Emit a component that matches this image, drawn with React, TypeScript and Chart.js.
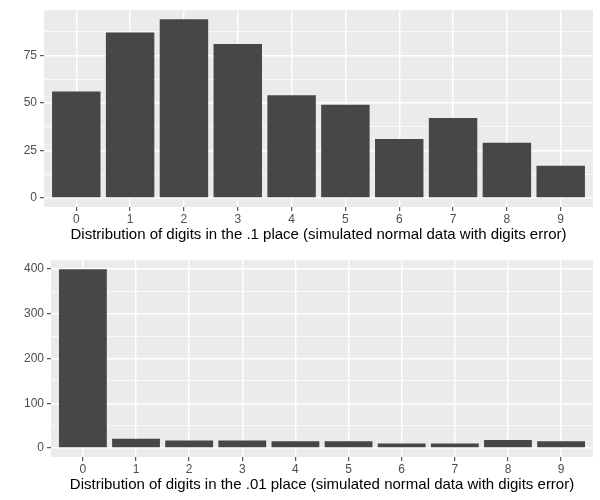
import React, { useEffect, useRef } from "react";
import { Chart, registerables } from "chart.js";

Chart.register(...registerables);
Chart.defaults.font.family = "'Liberation Sans', Arial, Helvetica, sans-serif";

const digits = ["0", "1", "2", "3", "4", "5", "6", "7", "8", "9"];
const tenthsCounts = [56, 87, 94, 81, 54, 49, 31, 42, 29, 17];
const hundredthsCounts = [400, 21, 17, 17, 15, 15, 10, 10, 18, 15];
const tenthsTitle =
  "Distribution of digits in the .1 place (simulated normal data with digits error)";
const hundredthsTitle =
  "Distribution of digits in the .01 place (simulated normal data with digits error)";
const tenthsMajorStep = 25;
const hundredthsMajorStep = 100;

const panelBg = {
  id: "panelBg",
  beforeDraw(chart: any) {
    const { ctx, chartArea } = chart;
    if (!chartArea) return;
    ctx.save();
    ctx.fillStyle = "#EBEBEB";
    ctx.fillRect(
      chartArea.left,
      chartArea.top,
      chartArea.right - chartArea.left,
      chartArea.bottom - chartArea.top
    );
    ctx.restore();
  },
};

function Panel({
  values,
  title,
  step,
  axisWidth,
}: {
  values: number[];
  title: string;
  step: number;
  axisWidth: number;
}) {
  const ref = useRef<HTMLCanvasElement | null>(null);
  useEffect(() => {
    if (!ref.current) return;
    const ymax = Math.max(...values);
    const yMin = -0.05 * ymax;
    const yMax = 1.05 * ymax;
    const isMajor = (v: number) => Math.abs(v % step) < 1e-9;
    const chart = new Chart(ref.current, {
      type: "bar",
      data: {
        datasets: [
          {
            data: values.map((v, i) => ({ x: i, y: v })),
            backgroundColor: "#474747",
            borderWidth: 0,
            barPercentage: 0.9,
            categoryPercentage: 1,
          } as any,
        ],
      },
      options: {
        animation: false,
        responsive: false,
        devicePixelRatio: 1,
        layout: { padding: { top: 7, right: 7, left: 0, bottom: 0 } },
        plugins: {
          legend: { display: false },
          tooltip: { enabled: false },
        },
        scales: {
          x: {
            type: "linear",
            offset: false,
            min: -0.6,
            max: digits.length - 0.4,
            afterBuildTicks: (s: any) => {
              s.ticks = digits.map((_, i) => ({ value: i }));
            },
            afterFit: (s: any) => {
              s.height = 43;
            },
            ticks: {
              callback: (v: any) => digits[Math.round(v as number)],
              color: "#4D4D4D",
              font: { size: 12 },
              padding: 1,
              maxRotation: 0,
              autoSkip: false,
            },
            grid: {
              offset: false,
              color: "#FFFFFF",
              lineWidth: 1.4,
              tickColor: "#333333",
              tickLength: 4,
              tickWidth: 1,
            },
            border: { display: false },
            title: {
              display: true,
              text: title,
              color: "#000000",
              font: { size: 15, lineHeight: 1.2 },
              padding: { top: 0, bottom: 6 },
            },
          },
          y: {
            type: "linear",
            min: yMin,
            max: yMax,
            afterBuildTicks: (s: any) => {
              const t: { value: number }[] = [];
              for (let v = 0; v <= yMax; v += step / 2) t.push({ value: v });
              s.ticks = t;
            },
            afterFit: (s: any) => {
              s.width = axisWidth;
            },
            ticks: {
              callback: (v: any) => (isMajor(v as number) ? String(v) : ""),
              color: "#4D4D4D",
              font: { size: 12 },
              padding: 3,
              autoSkip: false,
            },
            grid: {
              color: "#FFFFFF",
              lineWidth: (c: any) =>
                c.tick && isMajor(c.tick.value) ? 1.4 : 0.7,
              tickColor: (c: any) =>
                c.tick && isMajor(c.tick.value) ? "#333333" : "rgba(0,0,0,0)",
              tickLength: 4,
              tickWidth: 1,
            },
            border: { display: false },
          },
        },
      },
      plugins: [panelBg],
    } as any);
    return () => chart.destroy();
  }, [values, title, step, axisWidth]);
  return (
    <canvas
      ref={ref}
      width={600}
      height={250}
      style={{ display: "block", width: 600, height: 250 }}
    />
  );
}

export default function App() {
  return (
    <div
      style={{
        position: "absolute",
        left: 0,
        top: 0,
        width: 600,
        height: 500,
        background: "#FFFFFF",
      }}
    >
      <Panel
        values={tenthsCounts}
        title={tenthsTitle}
        step={tenthsMajorStep}
        axisWidth={44}
      />
      <Panel
        values={hundredthsCounts}
        title={hundredthsTitle}
        step={hundredthsMajorStep}
        axisWidth={51}
      />
    </div>
  );
}
